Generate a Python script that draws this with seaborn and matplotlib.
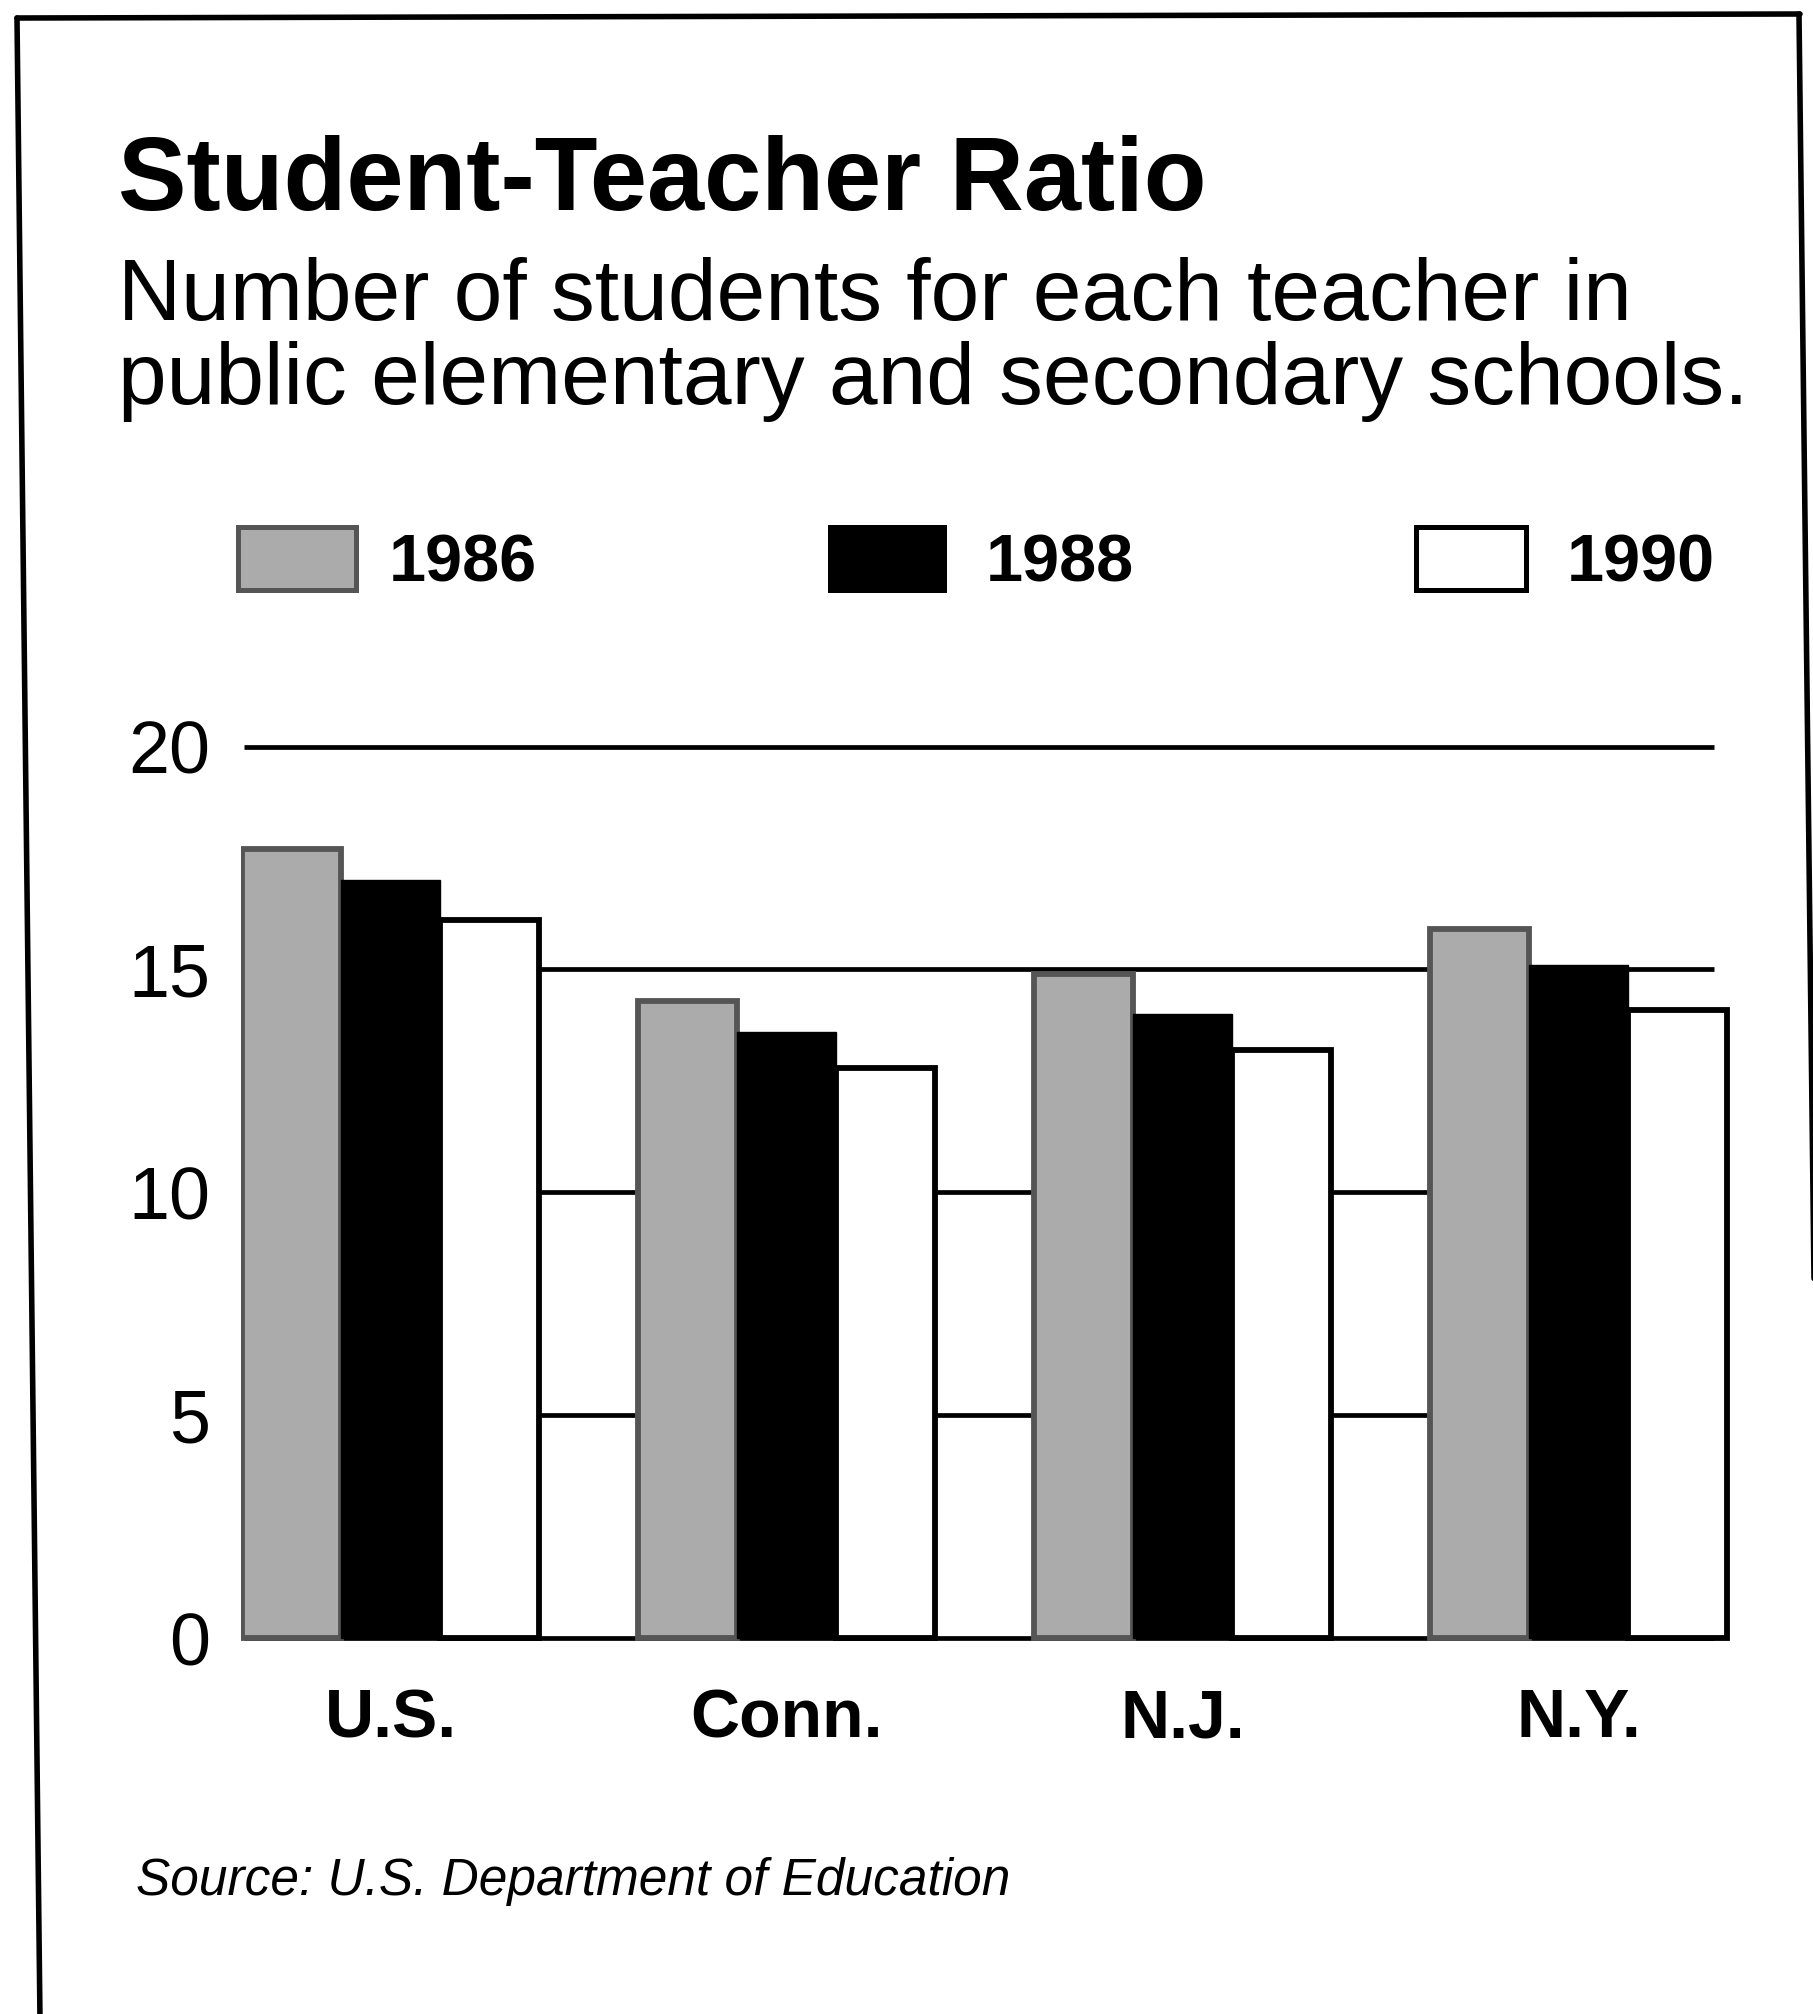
import matplotlib
matplotlib.use("Agg")
import matplotlib.pyplot as plt
from matplotlib.patches import Rectangle
from matplotlib.lines import Line2D
import seaborn as sns
import pandas as pd

# Student-teacher ratio by state and year
states = ["U.S.", "Conn.", "N.J.", "N.Y."]
years = ["1986", "1988", "1990"]
ratio_1986 = [17.7, 14.3, 14.9, 15.9]
ratio_1988 = [17.0, 13.6, 14.0, 15.1]
ratio_1990 = [16.1, 12.8, 13.2, 14.1]
y_ticks = [0, 5, 10, 15, 20]

fills = {"1986": "#ababab", "1988": "#000000", "1990": "#ffffff"}
edges = {"1986": "#555555", "1988": "#000000", "1990": "#000000"}

df = pd.DataFrame({
    "state": states * 3,
    "year": [years[0]] * 4 + [years[1]] * 4 + [years[2]] * 4,
    "ratio": ratio_1986 + ratio_1988 + ratio_1990,
})

sns.set_style("white")
plt.rcParams["font.family"] = ["Liberation Sans", "DejaVu Sans"]
plt.rcParams["text.color"] = "black"

W, H = 1813, 2014
fig = plt.figure(figsize=(W / 100, H / 100), dpi=100)
fig.patch.set_facecolor("white")

# plot area in pixel terms: x category unit = 396 px, y unit = 44.57 px
ax = fig.add_axes([240.5 / W, 0.18491, (1733.4 - 240.5) / W, 0.44657])

sns.barplot(data=df, x="state", y="ratio", hue="year", order=states,
            hue_order=years, palette=fills, width=0.75, gap=0,
            saturation=1, legend=False, errorbar=None, ax=ax, zorder=2)

for yr, cont in zip(years, ax.containers):
    for bar in cont:
        bar.set_edgecolor(edges[yr])
        bar.set_linewidth(4.2 if yr != "1988" else 1.0)
        bar.set_zorder(2)

# horizontal reference lines behind the bars
ax.hlines(y_ticks, -0.37, 3.34, colors="black", linewidth=3.4, zorder=1)

ax.set_xlim(-0.38, 3.39)
ax.set_ylim(-0.08, 20.1)
ax.set_yticks(y_ticks)
ax.set_yticklabels([str(t) for t in y_ticks])
ax.set_xlabel("")
ax.set_ylabel("")
for s in ax.spines.values():
    s.set_visible(False)
ax.tick_params(axis="y", length=0, pad=22, labelsize=53, labelcolor="black")
ax.tick_params(axis="x", length=0, pad=33, labelsize=49, labelcolor="black")
for lab in ax.get_xticklabels():
    lab.set_fontweight("bold")

# titles
fig.text(118 / W, 1 - 210 / H, "Student-Teacher Ratio", fontsize=74,
         fontweight="bold", ha="left", va="baseline", color="black")
fig.text(118 / W, 1 - 320 / H, "Number of students for each teacher in",
         fontsize=63, ha="left", va="baseline", color="black")
fig.text(118 / W, 1 - 404 / H, "public elementary and secondary schools.",
         fontsize=63, ha="left", va="baseline", color="black")

# legend swatches and labels
swatches = [(238, 118, 389), (830, 114, 986), (1416, 110, 1567)]
for yr, (sx, sw, tx) in zip(years, swatches):
    fig.add_artist(Rectangle((sx / W, 1 - 590 / H), sw / W, 63 / H,
                             transform=fig.transFigure,
                             facecolor=fills[yr], edgecolor=edges[yr],
                             linewidth=3.6))
    fig.text(tx / W, 1 - 582 / H, yr, fontsize=48, fontweight="bold",
             ha="left", va="baseline", color="black")

# source note
fig.text(136 / W, 1 - 1895 / H, "Source: U.S. Department of Education",
         fontsize=37, style="italic", ha="left", va="baseline", color="black")

# outer box
for (x0, y0), (x1, y1) in [((17, 18), (1800, 14)),
                           ((17, 18), (40, 2020)),
                           ((1799, 14), (1819, 1700))]:
    fig.add_artist(Line2D([x0 / W, x1 / W], [1 - y0 / H, 1 - y1 / H],
                          transform=fig.transFigure, color="black",
                          linewidth=4.0))

fig.savefig("out.png", dpi=100, facecolor="white")
